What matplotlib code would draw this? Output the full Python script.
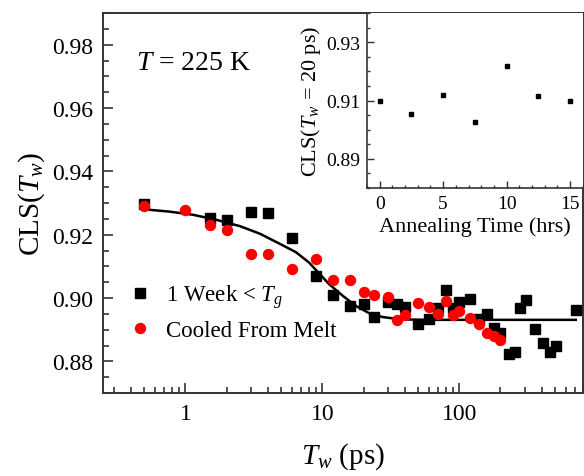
import numpy as np
import matplotlib
matplotlib.use("Agg")
import matplotlib.pyplot as plt
from matplotlib.ticker import LogLocator, MultipleLocator, NullFormatter, FuncFormatter

plt.rcParams['font.family'] = ['Liberation Serif', 'DejaVu Serif']
plt.rcParams['mathtext.fontset'] = 'custom'
plt.rcParams['mathtext.rm'] = 'Liberation Serif'
plt.rcParams['mathtext.it'] = 'Liberation Serif:italic'

# waiting times (ps) and CLS values, aged sample (black squares)
tw_aged = [0.5, 1.5, 2, 3, 4, 6, 9, 12, 16, 20, 24, 30, 35, 40, 50, 60, 70, 80, 90,
           100, 120, 140, 160, 180, 200, 230, 255, 280, 310, 355, 410, 460, 510, 710]
cls_aged = [0.9298, 0.9252, 0.9245, 0.9273, 0.9267, 0.9188, 0.9071, 0.9011, 0.8975,
            0.8980, 0.8940, 0.8987, 0.8980, 0.8972, 0.8918, 0.8934, 0.8969, 0.9026,
            0.8968, 0.8988, 0.8998, 0.8935, 0.8950, 0.8905, 0.8890, 0.8823, 0.8830,
            0.8967, 0.8993, 0.8902, 0.8858, 0.8828, 0.8849, 0.8961]

# quenched sample (red circles)
tw_melt = [0.5, 1, 1.5, 2, 3, 4, 6, 9, 12, 16, 20, 24, 30, 35, 40, 50, 60, 70, 80, 90,
           100, 120, 140, 160, 180, 200]
cls_melt = [0.9292, 0.9277, 0.9230, 0.9216, 0.9139, 0.9139, 0.9093, 0.9124, 0.9058,
            0.9058, 0.9018, 0.9010, 0.9003, 0.8929, 0.8946, 0.8985, 0.8971, 0.8951,
            0.8991, 0.8946, 0.8959, 0.8937, 0.8918, 0.8889, 0.8879, 0.8868]

# fit curve
tw_fit = [0.5, 0.76, 1.13, 1.68, 2.5, 3.5, 4.85, 6.4, 8, 9, 11.2, 14.1, 17.6, 22,
          27.5, 36.5, 54, 710]
cls_fit = [0.9280, 0.9273, 0.9263, 0.9247, 0.9227, 0.9203, 0.9172, 0.9145, 0.9112,
           0.9088, 0.9044, 0.9007, 0.8975, 0.8952, 0.8940, 0.8933, 0.8931, 0.8931]

# inset: CLS at Tw = 20 ps vs annealing time
anneal_hrs = [0, 2.5, 5, 7.5, 10, 12.5, 15]
cls_20ps = [0.910, 0.9055, 0.912, 0.9025, 0.922, 0.9115, 0.910]

spine_col = '#333333'

fig = plt.figure(figsize=(5.84, 4.77), dpi=100)
ax = fig.add_axes([0.1764, 0.174, 0.8216, 0.7966])

ax.plot(tw_fit, cls_fit, color='black', lw=1.8, zorder=2)
ax.plot(tw_aged, cls_aged, ls='none', marker='s', ms=6.5, color='black',
        label=r'1 Week < $T_g$', zorder=3)
ax.plot(tw_melt, cls_melt, ls='none', marker='o', ms=7.2, color='#ff0000',
        label='Cooled From Melt', zorder=3)

ax.set_xscale('log')
ax.set_xlim(0.25, 800)
ax.set_ylim(0.87, 0.99)
ax.xaxis.set_major_locator(LogLocator(base=10, numticks=10))
ax.xaxis.set_minor_locator(LogLocator(base=10, subs=np.arange(2, 10), numticks=20))
ax.xaxis.set_minor_formatter(NullFormatter())
ax.xaxis.set_major_formatter(FuncFormatter(lambda v, p: '%g' % v))
ax.yaxis.set_major_locator(MultipleLocator(0.02))
ax.yaxis.set_minor_locator(MultipleLocator(0.005))
ax.yaxis.set_major_formatter(FuncFormatter(lambda v, p: '%.2f' % v))

ax.tick_params(which='both', direction='in', top=False, right=False,
               colors=spine_col, labelcolor='black', width=1.2)
ax.tick_params(which='major', length=7, labelsize=17, pad=7)
ax.tick_params(which='minor', length=4)
for s in ax.spines.values():
    s.set_linewidth(1.4)
    s.set_color(spine_col)

ax.set_xlabel(r'$T_w$ (ps)', fontsize=21, labelpad=12)
ax.set_ylabel(r'CLS($T_w$)', fontsize=21, labelpad=4)

ax.text(0.068, 0.87, r'$T$ = 225 K', transform=ax.transAxes, fontsize=20,
        va='center', ha='left')

ax.legend(loc='center left', bbox_to_anchor=(0.03, 0.2134), frameon=False,
          fontsize=16.5, borderpad=0, handlelength=1.0, handletextpad=0.6,
          labelspacing=0.45, numpoints=1)

# inset
ins = fig.add_axes([0.6284, 0.6038, 0.3696, 0.3668])
ins.plot(anneal_hrs, cls_20ps, ls='none', marker='s', ms=3, color='black')
ins.set_xlim(-1, 16)
ins.set_ylim(0.88, 0.94)
ins.xaxis.set_major_locator(MultipleLocator(5))
ins.xaxis.set_minor_locator(MultipleLocator(1))
ins.yaxis.set_minor_locator(MultipleLocator(0.005))
ins.yaxis.set_major_formatter(FuncFormatter(lambda v, p: '%.2f' % v))
ins.set_yticks([0.89, 0.91, 0.93])
ins.tick_params(which='both', direction='in', top=False, right=False,
                colors=spine_col, labelcolor='black', width=1.0)
ins.tick_params(which='major', length=5, labelsize=14, pad=5)
ins.tick_params(which='minor', length=2.5)
for s in ins.spines.values():
    s.set_linewidth(1.2)
    s.set_color(spine_col)
ins.spines['top'].set_visible(False)
ins.spines['right'].set_visible(False)
ins.set_xlabel('Annealing Time (hrs)', fontsize=16, labelpad=3)
ins.set_ylabel(r'CLS($T_w$ = 20 ps)', fontsize=16, labelpad=2)

fig.savefig('out.png', dpi=100)
